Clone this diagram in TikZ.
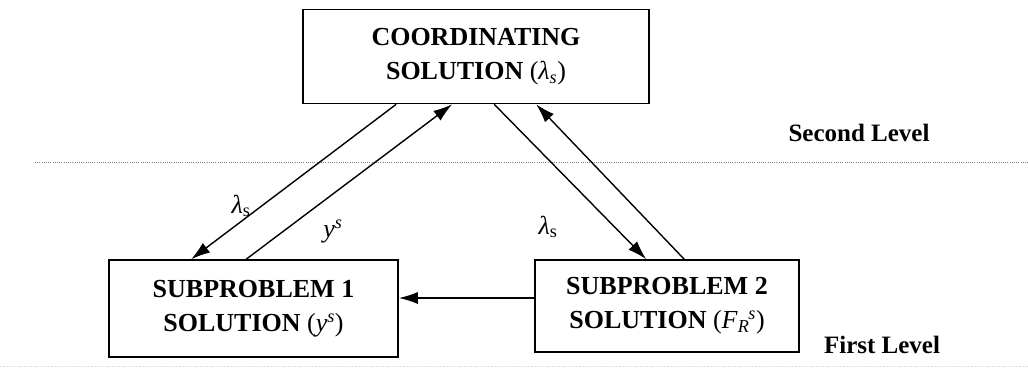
\documentclass[tikz,border=0pt]{standalone}
\usepackage{fontspec}
\setmainfont{Liberation Serif}
\usetikzlibrary{arrows.meta}
\newcommand{\lam}{\textit{λ}}
\begin{document}
\begin{tikzpicture}[x=1pt,y=-1pt,
  box/.style={draw,line width=1.6pt,inner sep=0pt,align=center,font=\fontsize{26}{34}\selectfont\bfseries},
  conn/.style={line width=1.4pt,-{Latex[length=19pt,width=12pt]}},
  lbl/.style={font=\fontsize{26}{30}\selectfont,inner sep=0pt},
  lvl/.style={font=\fontsize{25}{30}\selectfont\bfseries,inner sep=0pt},
  sep/.style={gray,line width=1pt,dash pattern=on 1pt off 1.2pt}]
\useasboundingbox (0,0) rectangle (1028,374);
\fill[white] (0,0) rectangle (1028,374);
\node[box,minimum width=346pt,minimum height=94pt] (coord) at (476,56.5)
  {COORDINATING\\SOLUTION {\mdseries(\lam\textsubscript{\textit{s}})}};
\node[box,minimum width=289pt,minimum height=97pt] (sub1) at (253.5,308.5)
  {SUBPROBLEM 1\\SOLUTION {\mdseries(\textit{y}\textsuperscript{\textit{s}})}};
\node[box,minimum width=264pt,minimum height=92pt] (sub2) at (667,306)
  {SUBPROBLEM 2\\SOLUTION {\mdseries(\textit{F}\textsubscript{\textit{R}}\kern-1pt\textsuperscript{\textit{s}})}};
\coordinate (sepL) at (35,163);
\coordinate (sepR) at (1028,163);
\draw[sep] (sepL) -- (sepR);
\coordinate (botL) at (0,366);
\coordinate (botR) at (1028,366);
\draw[sep,gray!35] (botL) -- (botR);
\draw[conn] ([xshift=94pt]coord.south west) -- ([xshift=83pt]sub1.north west);
\draw[conn] ([xshift=138pt]sub1.north west) -- ([xshift=150pt]coord.south west);
\draw[conn] ([xshift=192pt]coord.south west) -- ([xshift=112pt]sub2.north west);
\draw[conn] ([xshift=150pt]sub2.north west) -- ([xshift=234pt]coord.south west);
\draw[conn] ([yshift=8pt]sub2.west) -- ([yshift=8pt]sub2.west -| sub1.east);
\node[lbl] (l1) at (241,206) {\lam\textsubscript{s}};
\node[lbl] (l2) at (333,232) {\textit{y}\textsuperscript{\textit{s}}};
\node[lbl] (l3) at (548,227) {\lam\textsubscript{s}};
\node[lvl] (second) at (859,133) {Second Level};
\node[lvl] (first) at (882,345) {First Level};
\end{tikzpicture}
\end{document}
